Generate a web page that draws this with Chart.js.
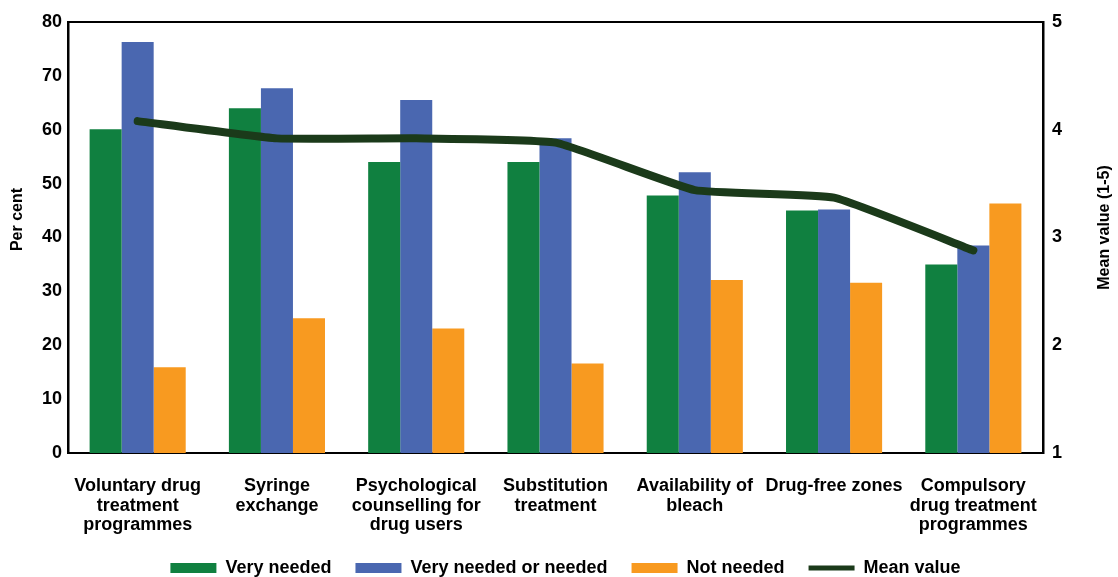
<!DOCTYPE html>
<html>
<head>
<meta charset="utf-8">
<script src="https://cdn.jsdelivr.net/npm/chart.js@4.4.1/dist/chart.umd.min.js"></script>
<style>
  html, body { margin: 0; padding: 0; background: #ffffff; overflow: hidden; }
  #wrap { position: relative; width: 1118px; height: 587px; }
</style>
</head>
<body>
<div id="wrap"><canvas id="needsChart"></canvas></div>
<script>
// Categories (multi-line labels as in the original)
const categories = [
    ['Voluntary drug', 'treatment', 'programmes'],
    ['Syringe', 'exchange'],
    ['Psychological', 'counselling for', 'drug users'],
    ['Substitution', 'treatment'],
    ['Availability of', 'bleach'],
    ['Drug-free zones'],
    ['Compulsory', 'drug treatment', 'programmes']
];

// Per cent values (left axis)
const veryNeeded = [60.1, 64.0, 54.0, 54.0, 47.8, 45.0, 35.0];
const veryNeededOrNeeded = [76.3, 67.7, 65.5, 58.4, 52.1, 45.2, 38.5];
const notNeeded = [15.9, 25.0, 23.1, 16.6, 32.1, 31.6, 46.3];

// Mean value 1-5 (right axis)
const meanValue = [4.08, 3.92, 3.92, 3.88, 3.44, 3.37, 2.88];

// Axis ranges
const percentTicks = { min: 0, max: 80, step: 10 };
const meanTicks = { min: 1, max: 5, step: 1 };

const FONT = '"Liberation Sans", Arial, sans-serif';

// Vertical axis titles, both read bottom to top like the original
const axisTitles = {
    id: 'axisTitles',
    afterLayout(chart) {
        // original legend sits a little right of centre
        if (chart.legend) {
            chart.legend.left += 12;
            chart.legend.right += 12;
        }
    },
    afterDraw(chart) {
        const { ctx, chartArea } = chart;
        const midY = (chartArea.top + chartArea.bottom) / 2;
        ctx.save();
        ctx.fillStyle = '#000000';
        ctx.font = 'bold 16px ' + FONT;
        ctx.textAlign = 'center';
        ctx.textBaseline = 'middle';

        ctx.save();
        ctx.translate(18, midY - 18);
        ctx.rotate(-Math.PI / 2);
        ctx.fillText('Per cent', 0, 0);
        ctx.restore();

        ctx.save();
        ctx.translate(chart.width - 13, midY - 10);
        ctx.rotate(-Math.PI / 2);
        ctx.fillText('Mean value (1-5)', 0, 0);
        ctx.restore();

        ctx.restore();
    }
};

const ctx = document.getElementById('needsChart');

new Chart(ctx, {
    type: 'bar',
    data: {
        labels: categories,
        datasets: [
            {
                label: 'Very needed',
                data: veryNeeded,
                backgroundColor: '#108040',
                pointStyle: 'rect',
                yAxisID: 'y',
                order: 1
            },
            {
                label: 'Very needed or needed',
                data: veryNeededOrNeeded,
                backgroundColor: '#4a67b0',
                pointStyle: 'rect',
                yAxisID: 'y',
                order: 1
            },
            {
                label: 'Not needed',
                data: notNeeded,
                backgroundColor: '#f89a20',
                pointStyle: 'rect',
                yAxisID: 'y',
                order: 1
            },
            {
                type: 'line',
                label: 'Mean value',
                data: meanValue,
                yAxisID: 'y1',
                borderColor: '#1b3a1a',
                backgroundColor: '#1b3a1a',
                borderWidth: 8,
                borderJoinStyle: 'round',
                borderCapStyle: 'round',
                tension: 0.12,
                pointRadius: 0,
                pointHoverRadius: 0,
                pointStyle: 'line',
                pointBorderColor: '#1b3a1a',
                pointBorderWidth: 5,
                fill: false,
                order: 0
            }
        ]
    },
    options: {
        responsive: true,
        maintainAspectRatio: false,
        animation: false,
        devicePixelRatio: 1,
        layout: {
            padding: { top: 22, left: 36, right: 47, bottom: 0 }
        },
        datasets: {
            bar: {
                categoryPercentage: 0.69,
                barPercentage: 1.0
            }
        },
        plugins: {
            title: { display: false },
            tooltip: { enabled: false },
            legend: {
                display: true,
                position: 'bottom',
                labels: {
                    usePointStyle: true,
                    pointStyleWidth: 46,
                    boxHeight: 10,
                    padding: 24,
                    color: '#000000',
                    font: { family: FONT, size: 18, weight: 'bold' },
                    sort: (a, b) => a.datasetIndex - b.datasetIndex
                }
            }
        },
        scales: {
            x: {
                position: 'bottom',
                grid: { display: false, drawTicks: false },
                border: { display: true, color: '#000000', width: 2 },
                ticks: {
                    color: '#000000',
                    padding: 23,
                    maxRotation: 0,
                    autoSkip: false,
                    font: { family: FONT, size: 18, weight: 'bold', lineHeight: 1.1 }
                },
                // labels sit close to the legend, so keep the band short
                afterFit: (scale) => { scale.height = 82; }
            },
            x2: {
                type: 'category',
                position: 'top',
                grid: { display: false, drawTicks: false },
                border: { display: true, color: '#000000', width: 2 },
                ticks: { display: false }
            },
            y: {
                position: 'left',
                min: percentTicks.min,
                max: percentTicks.max,
                grid: { display: false, drawTicks: false },
                border: { display: true, color: '#000000', width: 2.5 },
                ticks: {
                    stepSize: percentTicks.step,
                    color: '#000000',
                    padding: 6,
                    font: { family: FONT, size: 18, weight: 'bold' }
                }
            },
            y1: {
                position: 'right',
                min: meanTicks.min,
                max: meanTicks.max,
                grid: { display: false, drawTicks: false },
                border: { display: true, color: '#000000', width: 2.5 },
                ticks: {
                    stepSize: meanTicks.step,
                    color: '#000000',
                    padding: 9,
                    font: { family: FONT, size: 18, weight: 'bold' }
                }
            }
        }
    },
    plugins: [axisTitles]
});
</script>
</body>
</html>
